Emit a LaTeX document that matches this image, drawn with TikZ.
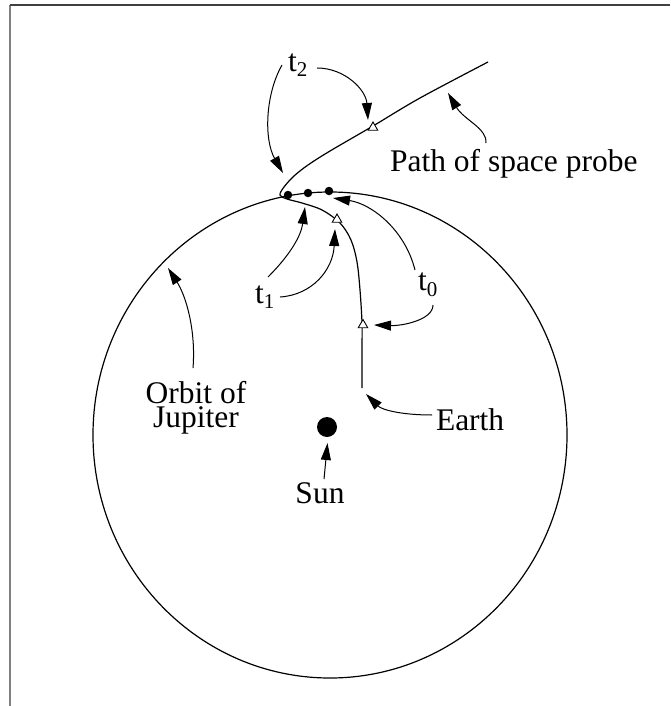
\documentclass[tikz,border=0pt]{standalone}
\usepackage{fontspec}
\setmainfont{Liberation Serif}
\usetikzlibrary{arrows.meta,shapes.geometric}
\begin{document}
\begin{tikzpicture}[x=1pt,y=-1pt,
  lbl/.style={inner sep=0pt,outer sep=0pt,font=\fontsize{31.5}{24}\selectfont},
  ptr/.style={line width=1pt,-{Triangle[length=17pt,width=10pt]}},
  curve/.style={line width=1.2pt},
  tri/.style={regular polygon,regular polygon sides=3,draw,fill=white,line width=0.9pt,minimum size=11pt,inner sep=0pt},
  dotm/.style={circle,fill=black,minimum size=8.5pt,inner sep=0pt},
  frameline/.style={line width=2pt,color=black!50}]
\useasboundingbox (0,0) rectangle (670,706);
% frame
\coordinate (fA) at (10,706);
\coordinate (fB) at (10,5);
\coordinate (fC) at (670,5);
\draw[frameline] (fA) -- (fB);
\draw[line width=1.6pt,black!75] (fB) -- (fC);
% orbit of Jupiter
\coordinate (orbitc) at (330,435);
\draw[curve] (orbitc) ellipse [x radius=237, y radius=243];
% sun
\node[circle,fill=black,minimum size=20pt,inner sep=0pt] (sun) at (327,427) {};
% path of space probe
\draw[curve] plot[smooth,tension=0.55] coordinates {(362,388) (362,350) (362,323) (360,290) (357,262) (351,240) (340,223) (322,210) (302,203) (287,199) (280,195) (284,187) (294,176) (308,165) (330,151) (373,126) (420,98) (488,62)};
% markers
\node[dotm] (d1) at (288,195) {};
\node[dotm] (d2) at (308,193) {};
\node[dotm] (d3) at (329,191) {};
\node[tri] (m2) at (373,127.5) {};
\node[tri] (m1) at (337,219.5) {};
\node[tri] (m0) at (363,325) {};
% labels
\node[lbl,anchor=base west] (t2) at (288,72) {t\raisebox{-5pt}{\fontsize{21}{21}\selectfont 2}};
\node[lbl,anchor=base west] (t1) at (255,303) {t\raisebox{-5pt}{\fontsize{21}{21}\selectfont 1}};
\node[lbl,anchor=base west] (t0) at (418,290) {t\raisebox{-6pt}{\fontsize{21}{21}\selectfont 0}};
\node[lbl,anchor=base west] (probe) at (390,171) {Path of space probe};
\node[lbl,anchor=base west] (earth) at (436,430) {Earth};
\node[lbl,anchor=base] (sunl) at (320,503) {Sun};
\node[lbl,anchor=north,align=center] (orbit) at (196,381) {Orbit of\\Jupiter};
% pointer arrows
\coordinate (t2a) at (282,65);
\coordinate (t2b) at (317,68);
\coordinate (t2tipA) at (283,173);
\coordinate (t2tipB) at (368,120);
\draw[ptr] (t2a) .. controls (265,95) and (264,140) .. (t2tipA);
\draw[ptr] (t2b) .. controls (345,68) and (366,90) .. (t2tipB);
\coordinate (t1a) at (268,277);
\coordinate (t1b) at (280,297);
\draw[ptr] (t1a) .. controls (290,255) and (301,236) .. (305,207);
\draw[ptr] (t1b) .. controls (312,295) and (333,270) .. (335,229);
\coordinate (t0a) at (415,270);
\coordinate (t0b) at (433,305);
\draw[ptr] (t0a) .. controls (405,230) and (372,204) .. (333,198);
\draw[ptr] (t0b) .. controls (433,320) and (402,326) .. (374,325);
\coordinate (pa) at (486,143);
\draw[ptr] (pa) .. controls (487,128) and (464,120) .. (448,93);
\coordinate (ea) at (432,415);
\draw[ptr] (ea) .. controls (402,415) and (382,410) .. (366,394);
\coordinate (sa) at (324,479);
\draw[ptr] (sa) -- (327.5,443);
\coordinate (oa) at (193,368);
\draw[ptr] (oa) .. controls (196,330) and (186,296) .. (168,268);
\end{tikzpicture}
\end{document}
